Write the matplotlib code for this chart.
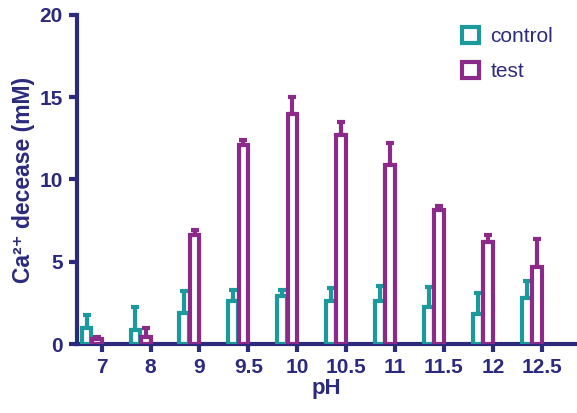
import numpy as np
import matplotlib.pyplot as plt

ph_labels = ['7', '8', '9', '9.5', '10', '10.5', '11', '11.5', '12', '12.5']
control = [1.0, 0.85, 1.9, 2.6, 2.9, 2.6, 2.6, 2.25, 1.85, 2.8]
control_err = [0.75, 1.4, 1.3, 0.7, 0.4, 0.8, 0.9, 1.2, 1.25, 1.0]
test = [0.3, 0.4, 6.6, 12.1, 14.0, 12.7, 10.9, 8.15, 6.2, 4.7]
test_err = [0.1, 0.55, 0.35, 0.3, 1.0, 0.8, 1.3, 0.25, 0.4, 1.7]

navy = '#2b2a7c'
teal = '#1b9a9c'
purple = '#8b2a88'

plt.rcParams['font.family'] = ['Liberation Sans', 'DejaVu Sans']

fig = plt.figure(figsize=(5.77, 4.13), dpi=100)
ax = fig.add_axes([0.133, 0.167, 0.867, 0.797])

x = np.arange(len(ph_labels))
w = 0.2
ax.bar(x - 0.31, control, w, facecolor='white', edgecolor=teal, linewidth=3,
       label='control', zorder=3)
ax.bar(x - 0.10, test, w, facecolor='white', edgecolor=purple, linewidth=3,
       label='test', zorder=3)
ax.errorbar(x - 0.31, control, yerr=[np.zeros(len(x)), control_err], fmt='none',
            ecolor=teal, elinewidth=3, capsize=3, capthick=3, zorder=2)
ax.errorbar(x - 0.10, test, yerr=[np.zeros(len(x)), test_err], fmt='none',
            ecolor=purple, elinewidth=3, capsize=3, capthick=3, zorder=2)

ax.set_xlim(-0.51, 9.72)
ax.set_ylim(0, 20)
ax.set_yticks([0, 5, 10, 15, 20])
ax.set_xticks(x)
ax.set_xticklabels(ph_labels)

for s in ['top', 'right']:
    ax.spines[s].set_visible(False)
for s in ['left', 'bottom']:
    ax.spines[s].set_color(navy)
    ax.spines[s].set_linewidth(3)
ax.tick_params(colors=navy, width=3, length=6, labelsize=15, pad=4)
for lab in ax.get_xticklabels() + ax.get_yticklabels():
    lab.set_fontweight('bold')

ax.set_ylabel('Ca²⁺ decease (mM)', color=navy, fontsize=16.5, fontweight='bold', labelpad=3)
ax.set_xlabel('pH', color=navy, fontsize=16, fontweight='bold', labelpad=1)

leg = fig.legend(*ax.get_legend_handles_labels(), loc='upper left',
                 bbox_to_anchor=(0.801, 0.935), frameon=False, borderpad=0,
                 borderaxespad=0, fontsize=15, handlelength=0.8, handleheight=0.8,
                 handletextpad=0.55, labelspacing=0.75)
for t in leg.get_texts():
    t.set_color(navy)

fig.savefig('out.png', dpi=100)
